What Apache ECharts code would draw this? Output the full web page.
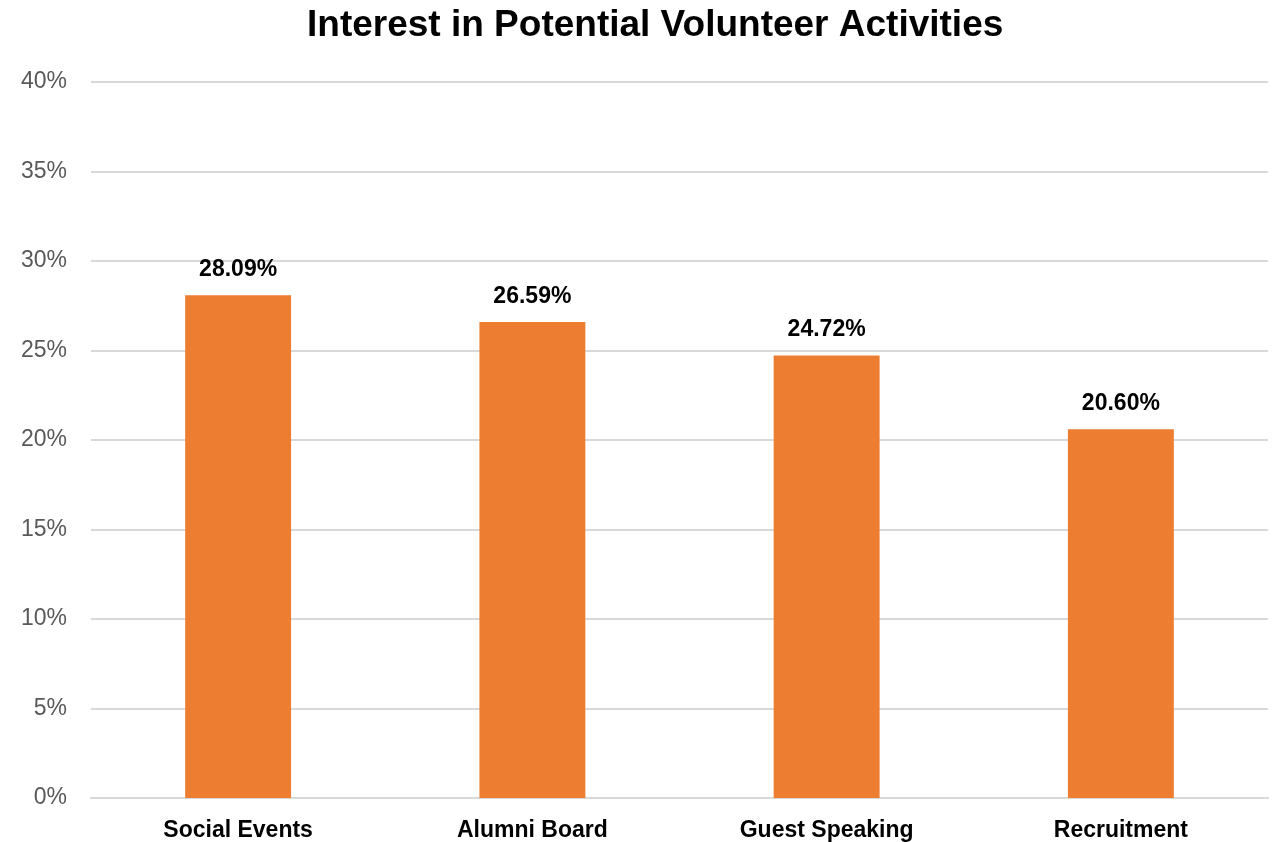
<!DOCTYPE html>
<html><head><meta charset="utf-8">
<script src="https://cdn.jsdelivr.net/npm/echarts@6/dist/echarts.min.js"></script>
<style>html,body{margin:0;padding:0;background:#fff}#c{width:1276px;height:842px}</style>
</head><body><div id="c"></div>
<script>
const categories = ["Social Events", "Alumni Board", "Guest Speaking", "Recruitment"];
const values = [28.09, 26.59, 24.72, 20.60];
const title = "Interest in Potential Volunteer Activities";

const chart = echarts.init(document.getElementById('c'), null, {renderer: 'canvas'});
chart.setOption({
  animation: false,
  backgroundColor: '#ffffff',
  title: {
    text: title, left: 302, top: 2,
    textStyle: {fontFamily: 'Liberation Sans', fontWeight: 'bold', fontSize: 37, color: '#000'}
  },
  grid: {left: 91, right: 8, top: 82, bottom: 44, containLabel: false},
  xAxis: {
    type: 'category', data: categories,
    axisLine: {show: true, lineStyle: {color: '#d9d9d9', width: 2}},
    axisTick: {show: false},
    axisLabel: {fontFamily: 'Liberation Sans', fontWeight: 'bold', fontSize: 23, color: '#000', margin: 21}
  },
  yAxis: {
    type: 'value', min: 0, max: 40, interval: 5,
    axisLine: {show: false}, axisTick: {show: false},
    splitLine: {lineStyle: {color: '#d9d9d9', width: 2}},
    axisLabel: {formatter: '{value}%', fontFamily: 'Liberation Sans', fontSize: 23, color: '#595959', margin: 24}
  },
  series: [{
    type: 'bar', data: values, barWidth: '36%',
    itemStyle: {color: '#ED7D31'},
    label: {show: true, position: 'top', distance: 14, formatter: p => p.value.toFixed(2) + '%',
      fontFamily: 'Liberation Sans', fontWeight: 'bold', fontSize: 23, color: '#000'}
  }]
});
</script></body></html>
